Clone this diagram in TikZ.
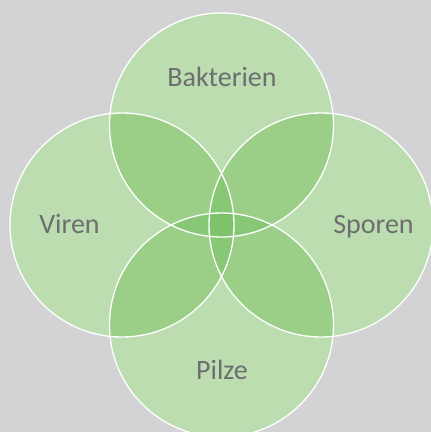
\documentclass[tikz,border=0pt]{standalone}
\usepackage{fontspec}
\setmainfont{Carlito}
\definecolor{bggray}{HTML}{D3D3D5}
\definecolor{greenA}{HTML}{BBDDB0}
\definecolor{greenB}{HTML}{9BCE87}
\definecolor{greenC}{HTML}{88C775}
\definecolor{greenD}{HTML}{7EC36B}
\definecolor{labelgray}{HTML}{6E6E70}
\begin{document}
\begin{tikzpicture}[x=1pt, y=1pt, line join=round, line cap=round,
		label/.style={anchor=base, text=labelgray, font=\fontsize{28}{34}\selectfont}]
		\useasboundingbox (0,0) rectangle (431,-432);
		\fill[bggray] (0,0) rectangle (431,-432);
		\clip (0,0) rectangle (431,-432);
		\def\r{112}
		\path 
			(221.5,-125) coordinate (bak)
			(122,-225) coordinate (vir)
			(321,-225) coordinate (spo)
			(221.5,-325) coordinate (pil)
		;
		% single circles
		\foreach \c in {bak,vir,spo,pil}{
			\fill[greenA] (\c) circle (\r);
		}
		% two at a time
		\foreach \a/\b in {bak/vir,bak/spo,pil/vir,pil/spo,bak/pil,vir/spo}{
			\begin{scope}
				\clip (\a) circle (\r);
				\fill[greenB] (\b) circle (\r);
			\end{scope}
		}
		% three at a time
		\foreach \a/\b/\d in {bak/vir/pil,bak/spo/pil,bak/vir/spo,pil/vir/spo}{
			\begin{scope}
				\clip (\a) circle (\r);
				\clip (\b) circle (\r);
				\fill[greenC] (\d) circle (\r);
			\end{scope}
		}
		% all four
		\begin{scope}
			\clip (bak) circle (\r);
			\clip (vir) circle (\r);
			\clip (spo) circle (\r);
			\fill[greenD] (pil) circle (\r);
		\end{scope}
		\foreach \c in {bak,vir,spo,pil}{
			\draw[white, line width=1.3pt] (\c) circle (\r);
		}
		\node[label] (bakterien) at (222,-86) {Bakterien};
		\node[label] (viren) at (69.5,-233) {Viren};
		\node[label] (sporen) at (373.5,-233) {Sporen};
		\node[label] (pilze) at (222,-379) {Pilze};
		\end{tikzpicture}
\end{document}
